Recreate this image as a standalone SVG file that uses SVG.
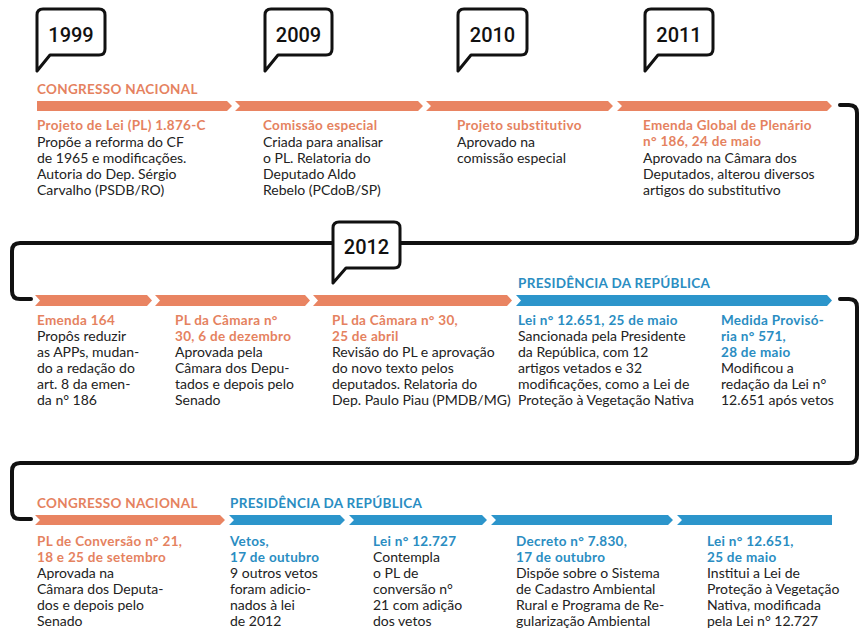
<svg xmlns="http://www.w3.org/2000/svg" width="866" height="642" viewBox="0 0 866 642">
<style>
.bg{fill:#ffffff}
.bub{fill:#ffffff;stroke:#111;stroke-width:3;stroke-linejoin:round}
.yr{font-family:Roboto,"DejaVu Sans",sans-serif;font-weight:500;font-size:20px;fill:#111;text-anchor:middle}
.conn{fill:none;stroke:#111;stroke-width:4;stroke-linecap:round}
.o{fill:#E98462}
.b{fill:#2C95CB}
.hd{font-family:Lato,"Liberation Sans",sans-serif;font-weight:700;font-size:13.5px;letter-spacing:0.3px}
.ho{fill:#E5825F}
.hb{fill:#2A8DC2}
.t{font-family:Lato,"Liberation Sans",sans-serif;font-weight:700;font-size:13.5px;letter-spacing:0.3px}
.to{fill:#E5825F}
.tb{fill:#2A8DC2}
.x{font-family:Lato,"Liberation Sans",sans-serif;font-size:14px;fill:#222}
</style>
<rect class="bg" x="0" y="0" width="866" height="642"/>

<g id="connectors">
<path class="conn" d="M 840 105 H 849 Q 857 105 857 113 V 235 Q 857 243 849 243 H 20 Q 12 243 12 251 V 291 Q 12 299 20 299 H 31"/>
<path class="conn" d="M 840 299 H 849 Q 857 299 857 307 V 455 Q 857 463 849 463 H 20 Q 12 463 12 471 V 511 Q 12 519 20 519 H 31"/>
</g>

<g id="bars">
<polygon class="o" points="37,101 227,101 232,106 227,111 37,111"/>
<polygon class="o" points="235,101 418,101 423,106 418,111 235,111 240,106"/>
<polygon class="o" points="426,101 608,101 613,106 608,111 426,111 431,106"/>
<polygon class="o" points="617,101 827,101 832,106 827,111 617,111 622,106"/>

<polygon class="o" points="35,295 147,295 152,300.5 147,306 35,306 40,300.5"/>
<polygon class="o" points="155,295 305,295 310,300.5 305,306 155,306 160,300.5"/>
<polygon class="o" points="313,295 507,295 512,300.5 507,306 313,306 318,300.5"/>
<polygon class="b" points="516,295 827,295 832,300.5 827,306 516,306 521,300.5"/>

<polygon class="o" points="35,515 220,515 225,520 220,525 35,525 40,520"/>
<polygon class="b" points="229,515 340,515 345,520 340,525 229,525 234,520"/>
<polygon class="b" points="349,515 482,515 487,520 482,525 349,525 354,520"/>
<polygon class="b" points="491,515 668,515 673,520 668,525 491,525 496,520"/>
<polygon class="b" points="677,515 832,515 832,525 677,525 682,520"/>
</g>

<g id="headers">
<text class="hd ho" x="37" y="94">CONGRESSO NACIONAL</text>
<text class="hd hb" x="518" y="288">PRESIDÊNCIA DA REPÚBLICA</text>
<text class="hd ho" x="37" y="508">CONGRESSO NACIONAL</text>
<text class="hd hb" x="230" y="508">PRESIDÊNCIA DA REPÚBLICA</text>
</g>

<g id="y1999"><path class="bub" d="M 37 71 V 15 Q 37 9 43 9 H 99 Q 105 9 105 15 V 49 Q 105 55 99 55 H 50 Z"/><text class="yr" x="71" y="42">1999</text></g>
<g id="y2009"><path class="bub" d="M 265 71 V 15 Q 265 9 271 9 H 326 Q 332 9 332 15 V 49 Q 332 55 326 55 H 278 Z"/><text class="yr" x="298.5" y="42">2009</text></g>
<g id="y2010"><path class="bub" d="M 458 71 V 15 Q 458 9 464 9 H 521 Q 527 9 527 15 V 49 Q 527 55 521 55 H 471 Z"/><text class="yr" x="492.5" y="42">2010</text></g>
<g id="y2011"><path class="bub" d="M 645 71 V 15 Q 645 9 651 9 H 707 Q 713 9 713 15 V 49 Q 713 55 707 55 H 658 Z"/><text class="yr" x="679" y="42">2011</text></g>
<g id="y2012"><path class="bub" d="M 333 283 V 228 Q 333 222 339 222 H 394 Q 400 222 400 228 V 262 Q 400 268 394 268 H 346 Z"/><text class="yr" x="366.5" y="254">2012</text></g>

<g id="n1">
<text class="t to" x="37" y="130">Projeto de Lei (PL) 1.876-C</text>
<text class="x" x="37" y="147">Propõe a reforma do CF</text>
<text class="x" x="37" y="163">de 1965 e modificações.</text>
<text class="x" x="37" y="179">Autoria do Dep. Sérgio</text>
<text class="x" x="37" y="195">Carvalho (PSDB/RO)</text>
</g>
<g id="n2">
<text class="t to" x="263" y="130">Comissão especial</text>
<text class="x" x="263" y="147">Criada para analisar</text>
<text class="x" x="263" y="163">o PL. Relatoria do</text>
<text class="x" x="263" y="179">Deputado Aldo</text>
<text class="x" x="263" y="195">Rebelo (PCdoB/SP)</text>
</g>
<g id="n3">
<text class="t to" x="457" y="130">Projeto substitutivo</text>
<text class="x" x="457" y="147">Aprovado na</text>
<text class="x" x="457" y="163">comissão especial</text>
</g>
<g id="n4">
<text class="t to" x="643" y="130">Emenda Global de Plenário</text>
<text class="t to" x="643" y="146">n° 186, 24 de maio</text>
<text class="x" x="643" y="163">Aprovado na Câmara dos</text>
<text class="x" x="643" y="179">Deputados, alterou diversos</text>
<text class="x" x="643" y="195">artigos do substitutivo</text>
</g>

<g id="n5">
<text class="t to" x="37" y="325">Emenda 164</text>
<text class="x" x="37" y="341">Propôs reduzir</text>
<text class="x" x="37" y="357">as APPs, mudan-</text>
<text class="x" x="37" y="373">do a redação do</text>
<text class="x" x="37" y="389">art. 8 da emen-</text>
<text class="x" x="37" y="405">da n° 186</text>
</g>
<g id="n6">
<text class="t to" x="175" y="325">PL da Câmara n°</text>
<text class="t to" x="175" y="341">30, 6 de dezembro</text>
<text class="x" x="175" y="357">Aprovada pela</text>
<text class="x" x="175" y="373">Câmara dos Depu-</text>
<text class="x" x="175" y="389">tados e depois pelo</text>
<text class="x" x="175" y="405">Senado</text>
</g>
<g id="n7">
<text class="t to" x="332" y="325">PL da Câmara n° 30,</text>
<text class="t to" x="332" y="341">25 de abril</text>
<text class="x" x="332" y="357">Revisão do PL e aprovação</text>
<text class="x" x="332" y="373">do novo texto pelos</text>
<text class="x" x="332" y="389">deputados. Relatoria do</text>
<text class="x" x="332" y="405">Dep. Paulo Piau (PMDB/MG)</text>
</g>
<g id="n8">
<text class="t tb" x="518" y="325">Lei n° 12.651, 25 de maio</text>
<text class="x" x="518" y="341">Sancionada pela Presidente</text>
<text class="x" x="518" y="357">da República, com 12</text>
<text class="x" x="518" y="373">artigos vetados e 32</text>
<text class="x" x="518" y="389">modificações, como a Lei de</text>
<text class="x" x="518" y="405">Proteção à Vegetação Nativa</text>
</g>
<g id="n9">
<text class="t tb" x="721" y="325">Medida Provisó-</text>
<text class="t tb" x="721" y="341">ria n° 571,</text>
<text class="t tb" x="721" y="357">28 de maio</text>
<text class="x" x="721" y="373">Modificou a</text>
<text class="x" x="721" y="389">redação da Lei n°</text>
<text class="x" x="721" y="405">12.651 após vetos</text>
</g>

<g id="n10">
<text class="t to" x="37" y="546">PL de Conversão n° 21,</text>
<text class="t to" x="37" y="562">18 e 25 de setembro</text>
<text class="x" x="37" y="578">Aprovada na</text>
<text class="x" x="37" y="594">Câmara dos Deputa-</text>
<text class="x" x="37" y="610">dos e depois pelo</text>
<text class="x" x="37" y="626">Senado</text>
</g>
<g id="n11">
<text class="t tb" x="230" y="546">Vetos,</text>
<text class="t tb" x="230" y="562">17 de outubro</text>
<text class="x" x="230" y="578">9 outros vetos</text>
<text class="x" x="230" y="594">foram adicio-</text>
<text class="x" x="230" y="610">nados à lei</text>
<text class="x" x="230" y="626">de 2012</text>
</g>
<g id="n12">
<text class="t tb" x="373" y="546">Lei n° 12.727</text>
<text class="x" x="373" y="562">Contempla</text>
<text class="x" x="373" y="578">o PL de</text>
<text class="x" x="373" y="594">conversão n°</text>
<text class="x" x="373" y="610">21 com adição</text>
<text class="x" x="373" y="626">dos vetos</text>
</g>
<g id="n13">
<text class="t tb" x="516" y="546">Decreto n° 7.830,</text>
<text class="t tb" x="516" y="562">17 de outubro</text>
<text class="x" x="516" y="578">Dispõe sobre o Sistema</text>
<text class="x" x="516" y="594">de Cadastro Ambiental</text>
<text class="x" x="516" y="610">Rural e Programa de Re-</text>
<text class="x" x="516" y="626">gularização Ambiental</text>
</g>
<g id="n14">
<text class="t tb" x="707" y="546">Lei n° 12.651,</text>
<text class="t tb" x="707" y="562">25 de maio</text>
<text class="x" x="707" y="578">Institui a Lei de</text>
<text class="x" x="707" y="594">Proteção à Vegetação</text>
<text class="x" x="707" y="610">Nativa, modificada</text>
<text class="x" x="707" y="626">pela Lei n° 12.727</text>
</g>
</svg>
